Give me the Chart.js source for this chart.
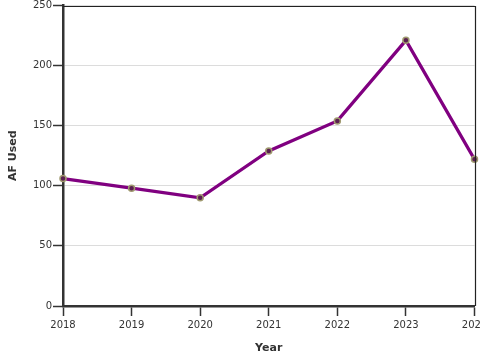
<!DOCTYPE html>
<html>
<head>
<meta charset="utf-8">
<script src="https://cdn.jsdelivr.net/npm/chart.js@4"></script>
<style>
  html, body { margin: 0; padding: 0; background: #fff; overflow: hidden; }
  #wrap { width: 480px; height: 360px; }
</style>
</head>
<body>
<div id="wrap"><canvas id="afChart" width="480" height="360"></canvas></div>
<script>
// chart data
const years = ['2018', '2019', '2020', '2021', '2022', '2023', '2024'];
const afUsed = [106, 98, 90, 129, 154, 221, 122];
const yTicks = [0, 50, 100, 150, 200, 250];

const axisColor = '#333333';
const font = { family: '"DejaVu Sans", sans-serif', size: 10 };
const titleFont = { family: '"DejaVu Sans", sans-serif', size: 11, weight: 'bold' };

// thin frame on top and right of the plot
const framePlugin = {
    id: 'frame',
    afterDraw(chart) {
        const { ctx, chartArea: a } = chart;
        ctx.save();
        ctx.strokeStyle = '#222222';
        ctx.lineWidth = 1.2;
        ctx.beginPath();
        ctx.moveTo(a.left, Math.round(a.top) + 0.5);
        ctx.lineTo(Math.round(a.right) + 0.5, Math.round(a.top) + 0.5);
        ctx.lineTo(Math.round(a.right) + 0.5, a.bottom);
        ctx.stroke();
        ctx.restore();
    }
};

Chart.defaults.animation = false;

new Chart(document.getElementById('afChart').getContext('2d'), {
    type: 'line',
    data: {
        labels: years,
        datasets: [{
            label: 'AF Used',
            data: afUsed,
            borderColor: '#800080',
            borderWidth: 3.2,
            tension: 0,
            pointRadius: 3,
            pointBackgroundColor: '#5a2050',
            pointBorderColor: '#a09a70',
            pointBorderWidth: 1.5,
            clip: false
        }]
    },
    options: {
        responsive: false,
        layout: { padding: { top: 3, right: 5, left: 0, bottom: 0 } },
        plugins: { legend: { display: false }, tooltip: { enabled: false } },
        scales: {
            x: {
                offset: false,
                grid: { drawOnChartArea: false, drawTicks: true, tickLength: 10, tickColor: axisColor, tickWidth: 1.5 },
                border: { color: axisColor, width: 2.5 },
                ticks: { font: font, color: axisColor, padding: 3, maxRotation: 0, autoSkip: false },
                title: { display: true, text: 'Year', font: titleFont, color: axisColor, padding: { top: 0, bottom: 5 } },
                afterFit(s) { s.height = 54; s.paddingLeft = 0; s.paddingRight = 0; }
            },
            y: {
                min: 0,
                max: 250,
                afterBuildTicks(s) { s.ticks = yTicks.map(v => ({ value: v })); },
                grid: { color: '#dcdcdc', lineWidth: 1, tickLength: 10, tickColor: axisColor, tickWidth: 1.5 },
                border: { color: axisColor, width: 2.5 },
                ticks: { font: font, color: axisColor, padding: 1 },
                title: { display: true, text: 'AF Used', font: titleFont, color: axisColor, padding: { top: 7, bottom: 0 } },
                afterFit(s) { s.width = 63; s.paddingTop = 0; s.paddingBottom = 0; }
            }
        }
    },
    plugins: [framePlugin]
});
</script>
</body>
</html>
